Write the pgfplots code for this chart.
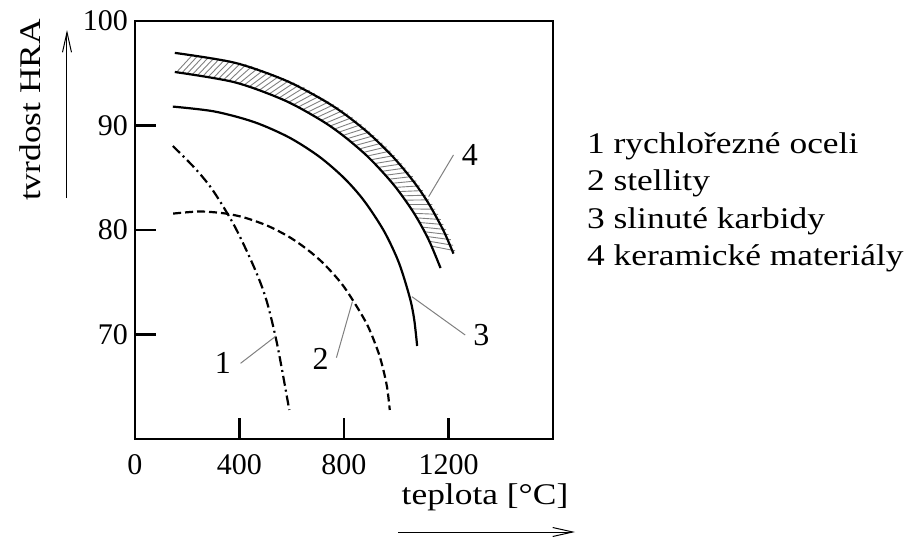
\documentclass[border=0pt]{standalone}
\usepackage{fontspec}
\setmainfont{Liberation Serif}[FakeStretch=1.18]
\newfontfamily\numfont{Liberation Serif}
\usepackage{pgfplots}
\pgfplotsset{compat=1.18}
\usetikzlibrary{arrows.meta,decorations.markings}
\begin{document}
\begin{tikzpicture}[font=\fontsize{15}{18}\selectfont]
\path[use as bounding box] (-67.5pt,-49pt) rectangle (387.5pt,219.5pt);
\begin{axis}[
  at={(0,0)}, anchor=south west,
  scale only axis, width=209pt, height=209pt,
  xmin=0, xmax=1600, ymin=60, ymax=100,
  xtick={0,400,800,1200}, ytick={70,80,90,100},
  xtick pos=left, ytick pos=left,
  tick align=inside,
  major tick length=10.5pt,
  axis line style={line width=1.1pt},
  every tick/.style={black, line width=1.1pt},
  /pgf/number format/assume math mode=true,
  /pgf/number format/1000 sep={},
  ticklabel style={font=\numfont\fontsize{15}{18}\selectfont},
  xticklabel style={yshift=-4pt},
]
% hatching of band 4
\addplot[draw=none, smooth, postaction={decorate},
  decoration={markings, mark=between positions 0.005 and 0.935 step 0.0152 with {\draw[gray, line width=0.45pt] (0pt,0pt) -- (6.8pt,9.9pt);}}]
  coordinates {(152.4,95.12) (381,94.14) (571.4,92.42) (711.2,90.52) (800,88.97) (895.2,86.92) (990.5,84.32) (1066.7,81.66) (1123.8,79.08) (1169.5,76.36)};
% band 4 boundaries
\addplot[line width=1.1pt, smooth] coordinates {(152.4,96.95) (381,96.01) (571,94.37) (711,92.57) (800,91.14) (895,89.25) (990,86.93) (1067,84.62) (1124,82.53) (1181,79.93) (1219,77.74)};
\addplot[line width=1.1pt, smooth] coordinates {(152.4,95.12) (381,94.14) (571.4,92.42) (711.2,90.52) (800,88.97) (895.2,86.92) (990.5,84.32) (1066.7,81.66) (1123.8,79.08) (1169.5,76.36)};
% curve 3
\addplot[line width=1.1pt, smooth] coordinates {(144.8,91.81) (304.8,91.34) (457.1,90.32) (590.5,88.85) (704.8,87.03) (800,84.98) (876.2,82.82) (952.4,79.93) (1009.5,76.91) (1051.4,73.57) (1068.6,71.46) (1080,68.90)};
% curve 2
\addplot[line width=1.1pt, smooth, dash pattern=on 4pt off 2pt] coordinates {(145.9,81.57) (247.6,81.77) (342.9,81.59) (419,81.19) (507.8,80.40) (590.5,79.33) (660.2,78.12) (723.8,76.74) (800,74.56) (883.8,71.18) (926.9,68.62) (946.7,67.01) (964.9,64.95) (975.2,62.78)};
% curve 1
\addplot[line width=1.1pt, smooth, dash pattern=on 5pt off 2pt on 1pt off 2pt] coordinates {(144.8,88.04) (228.6,85.93) (297.1,83.83) (381,80.38) (457.1,76.36) (502.9,73.30) (544.8,68.99) (590.5,62.78)};
% leaders
\addplot[gray, line width=0.5pt] coordinates {(404,67.24) (540,69.86)};
\addplot[gray, line width=0.5pt] coordinates {(771,67.78) (832,73.14)};
\addplot[gray, line width=0.5pt] coordinates {(1264,69.95) (1060,73.62)};
\addplot[gray, line width=0.5pt] coordinates {(1219,87.18) (1124,83.19)};
\node[font=\numfont\fontsize{16}{19}\selectfont] at (axis cs:336,67.24) {1};
\node[font=\numfont\fontsize{16}{19}\selectfont] at (axis cs:711,67.7) {2};
\node[font=\numfont\fontsize{16}{19}\selectfont] at (axis cs:1326,69.95) {3};
\node[font=\numfont\fontsize{16}{19}\selectfont] at (axis cs:1282,87.18) {4};
\end{axis}
\node[rotate=90] at (-52.5pt,164.5pt) {tvrdost HRA};
\draw[line width=0.5pt, -{Straight Barb[length=10pt,width=4.5pt]}] (-34pt,120.5pt) -- (-34pt,204.5pt);
\node at (175pt,-29pt) {teplota [°C]};
\draw[line width=0.5pt, -{Straight Barb[length=10pt,width=4.5pt]}] (131.5pt,-46.5pt) -- (220pt,-46.5pt);
\node[anchor=base west] at (222.5pt,143pt) {1 rychlořezné oceli};
\node[anchor=base west] at (222.5pt,124.25pt) {2 stellity};
\node[anchor=base west] at (222.5pt,105.5pt) {3 slinuté karbidy};
\node[anchor=base west] at (222.5pt,86.75pt) {4 keramické materiály};
\end{tikzpicture}
\end{document}
